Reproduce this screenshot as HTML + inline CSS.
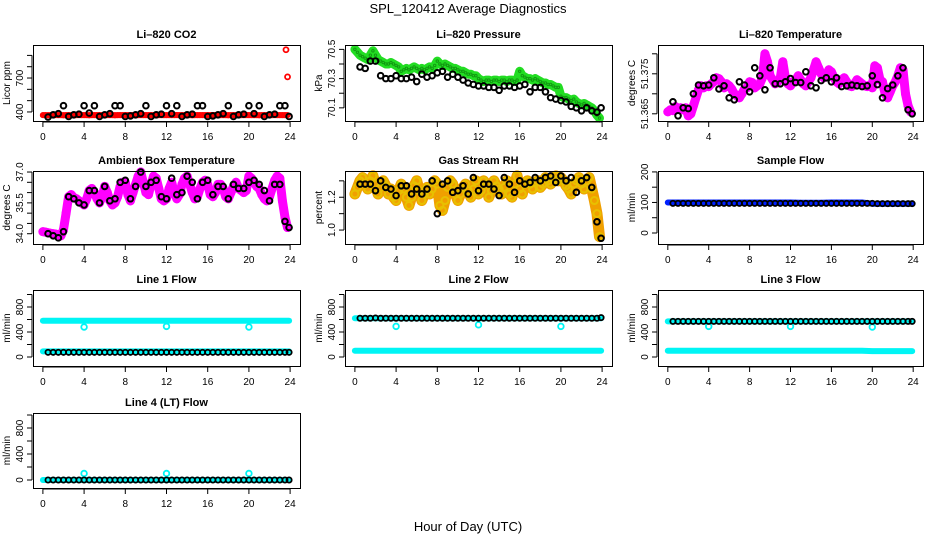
<!DOCTYPE html>
<html><head><meta charset="utf-8">
<style>
html,body{margin:0;padding:0;background:#fff;}
svg{display:block;font-family:"Liberation Sans",sans-serif;}
</style></head>
<body>
<svg id="chart" width="936" height="540" viewBox="0 0 936 540">
<text x="468" y="13" text-anchor="middle" font-size="13">SPL_120412  Average Diagnostics</text>
<text x="468" y="531" text-anchor="middle" font-size="13">Hour of Day (UTC)</text>
</svg>
<script>
// ---- data ----
const xTicks = [0,4,8,12,16,20,24];
const blackT = [0.5,1,1.5,2,2.5,3,3.5,4,4.5,5,5.5,6,6.5,7,7.5,8,8.5,9,9.5,10,10.5,11,11.5,12,12.5,13,13.5,14,14.5,15,15.5,16,16.5,17,17.5,18,18.5,19,19.5,20,20.5,21,21.5,22,22.5,23,23.5,23.9];
const hourT = [0,1,2,3,4,5,6,7,8,9,10,11,12,13,14,15,16,17,18,19,20,21,22,23,23.9];

const co2Red = [372,372,371,372,372,373,372,372,371,372,372,372,372,372,373,372,372,372,371,372,372,372,372,372,372,373,372,372,371,372,372,372,372,372,372,372,372,372,373,372,372,372,372,372,371,372,372,372,372,372,372,372,373,372,372,372,372,372,371,372,372,372,372,372,372,372,373,372,372,372,372,372,371,372,372,372,372,372,372,373,372,372,372,372,371,372,372,372,372,372,373,372,372,372,372,372];
const co2OutT = [23.6,23.75];
const co2OutV = [950,710];
const co2Black = [355,375,385,455,360,375,380,455,390,455,360,375,385,455,455,360,365,375,385,455,360,375,380,455,385,455,360,375,380,455,455,360,365,375,385,455,360,375,380,455,385,455,360,375,380,455,455,360];

const presGreen = [70.50,70.48,70.46,70.45,70.44,70.43,70.46,70.49,70.46,70.43,70.42,70.41,70.40,70.40,70.41,70.40,
70.39,70.38,70.35,70.36,70.37,70.36,70.37,70.38,70.37,70.36,70.37,70.36,70.37,70.38,70.37,70.39,
70.42,70.40,70.39,70.40,70.39,70.38,70.37,70.37,70.36,70.35,70.35,70.34,70.33,70.33,70.32,70.32,
70.30,70.29,70.28,70.29,70.29,70.28,70.29,70.29,70.28,70.29,70.29,70.28,70.29,70.29,70.28,70.29,
70.35,70.32,70.31,70.30,70.30,70.29,70.30,70.29,70.28,70.27,70.27,70.26,70.26,70.25,70.24,70.24,
70.18,70.17,70.17,70.16,70.15,70.16,70.14,70.13,70.12,70.13,70.12,70.11,70.10,70.08,70.05,70.03];
const presBlack = [70.38,70.37,70.42,70.42,70.32,70.30,70.30,70.32,70.30,70.30,70.31,70.28,70.33,70.31,70.32,70.34,70.35,70.31,70.33,70.31,70.29,70.27,70.26,70.25,70.25,70.24,70.24,70.22,70.25,70.25,70.24,70.25,70.26,70.21,70.24,70.24,70.21,70.17,70.16,70.15,70.14,70.11,70.10,70.08,70.10,70.08,70.07,70.10];

const liTemp = [51.3655,51.3660,51.3658,51.3668,51.3662,51.3665,51.3660,51.3665,51.3645,51.3650,51.3670,51.3690,51.3710,51.3720,51.3715,51.3720,
51.3718,51.3725,51.3730,51.3740,51.3738,51.3730,51.3715,51.3725,51.3720,51.3712,51.3700,51.3695,51.3690,51.3700,51.3712,51.3715,
51.3730,51.3728,51.3715,51.3720,51.3725,51.3740,51.3800,51.3780,51.3745,51.3735,51.3725,51.3730,51.3740,51.3780,51.3740,51.3725,
51.3720,51.3730,51.3735,51.3745,51.3735,51.3725,51.3720,51.3730,51.3740,51.3760,51.3780,51.3765,51.3750,51.3740,51.3745,51.3760,
51.3755,51.3740,51.3730,51.3725,51.3735,51.3740,51.3730,51.3720,51.3718,51.3725,51.3735,51.3730,51.3725,51.3720,51.3718,51.3722,
51.3715,51.3770,51.3765,51.3735,51.3730,51.3700,51.3690,51.3705,51.3720,51.3730,51.3745,51.3765,51.3760,51.3700,51.3670,51.3655];
const liTempBlack = [51.3680,51.3645,51.3665,51.3663,51.3700,51.3722,51.3720,51.3722,51.3740,51.3712,51.3720,51.3690,51.3685,51.3730,51.3722,51.3705,51.3765,51.3745,51.3710,51.3765,51.3725,51.3725,51.3730,51.3738,51.3728,51.3728,51.3755,51.3720,51.3715,51.3733,51.3740,51.3730,51.3740,51.3718,51.3720,51.3722,51.3720,51.3718,51.3720,51.3745,51.3723,51.3690,51.3713,51.3722,51.3745,51.3765,51.3660,51.3650];

const ambTemp = [34.10,34.08,34.05,34.02,34.00,33.98,33.95,33.90,34.20,35.00,35.80,35.90,35.75,35.70,35.60,35.50,
35.40,35.70,36.10,36.20,36.00,35.70,35.50,35.80,36.30,36.00,35.60,35.40,35.50,35.80,36.30,36.50,
36.50,35.90,35.60,36.00,36.40,36.80,37.00,36.50,36.00,35.90,36.40,36.80,36.70,36.20,35.70,35.60,
35.70,36.20,36.50,36.00,35.70,35.90,36.40,36.70,36.80,36.40,36.00,35.70,35.80,36.20,36.50,36.60,
36.40,35.90,35.80,36.00,36.40,36.40,36.20,35.80,35.70,36.00,36.30,36.50,36.20,36.10,36.00,36.10,
36.80,36.70,36.50,36.30,36.20,35.90,35.70,35.60,35.80,36.20,36.60,36.80,36.70,35.60,34.80,34.30];
const ambBlack = [34.0,33.9,33.8,34.1,35.8,35.7,35.5,35.4,36.1,36.1,35.5,36.3,35.6,35.7,36.5,36.6,35.7,36.3,37.0,36.3,36.5,36.6,35.8,35.7,36.7,35.9,36.0,36.8,36.5,35.7,36.5,36.6,35.9,36.3,36.3,35.7,36.4,36.2,36.2,36.5,36.6,36.4,36.1,35.6,36.4,36.4,34.6,34.3];

const rhVals = [1.22,1.26,1.30,1.32,1.28,1.25,1.30,1.33,1.28,1.22,1.26,1.30,1.27,1.22,1.25,1.20,
1.18,1.24,1.28,1.25,1.20,1.15,1.20,1.27,1.30,1.24,1.18,1.22,1.26,1.22,1.25,1.30,
1.28,1.15,1.12,1.18,1.26,1.30,1.28,1.22,1.18,1.22,1.26,1.28,1.24,1.20,1.25,1.30,
1.22,1.24,1.30,1.28,1.20,1.24,1.30,1.27,1.25,1.22,1.26,1.30,1.22,1.20,1.28,1.33,
1.25,1.22,1.28,1.30,1.28,1.25,1.29,1.30,1.26,1.28,1.32,1.30,1.28,1.31,1.33,1.30,
1.32,1.30,1.27,1.25,1.22,1.28,1.30,1.32,1.28,1.25,1.30,1.32,1.25,1.18,1.10,0.96];
const rhBlack = [1.28,1.28,1.28,1.24,1.30,1.26,1.25,1.21,1.27,1.27,1.22,1.25,1.22,1.25,1.30,1.10,1.28,1.30,1.23,1.24,1.27,1.22,1.32,1.24,1.28,1.28,1.25,1.21,1.32,1.28,1.23,1.30,1.28,1.29,1.32,1.30,1.32,1.33,1.29,1.33,1.30,1.32,1.23,1.30,1.32,1.26,1.05,0.95];

const sampleBlue = [100,100,100,100,100,100,100,100,100,100,100,100,100,99,99,99,100,100,100,100,96,96,96,96,96];
const sampleBlack = [97,97,97,97,97,97,97,97,97,97,97,97,97,97,97,97,97,97,97,97,97,97,97,97,97,97,97,97,97,97,97,97,97,97,97,97,97,97,97,97,96,96,96,96,96,96,96,96];

const l1High = [580,580,580,580,580,580,580,580,580,580,580,580,580,580,580,580,580,580,580,580,580,580,580,580,580];
const l1Low = [90,90,90,90,90,90,90,90,90,90,90,90,90,90,90,90,90,90,90,90,90,90,90,90,90];
const l1Black = [75,75,75,75,75,75,75,75,75,75,75,75,75,75,75,75,75,75,75,75,75,75,75,75,75,75,75,75,75,75,75,75,75,75,75,75,75,75,75,75,75,75,75,75,75,75,75,75];
const outT = [4,12,20];
const l1Out = [480,490,480];

const l2High = [620,620,620,620,620,620,620,620,620,620,620,620,620,620,620,620,620,620,620,620,620,620,620,620,620];
const l2Low = [100,100,100,100,100,100,100,100,100,100,100,100,100,100,100,100,100,100,100,100,100,100,100,100,100];
const l2Black = [620,620,620,625,620,620,620,620,620,620,620,620,620,620,620,620,620,620,620,620,620,620,620,620,620,620,620,620,620,620,620,620,620,620,620,620,620,620,620,620,620,620,620,620,620,620,620,630];
const l2Out = [490,515,490];

const l3High = [570,570,570,570,570,570,570,570,570,570,570,570,570,570,570,570,570,570,570,570,570,570,570,570,570];
const l3Low = [100,100,100,100,100,100,100,100,100,100,100,100,100,100,100,100,100,100,100,100,95,95,95,95,95];
const l3Black = [570,570,570,570,570,570,570,570,570,570,570,570,570,570,570,570,570,570,570,570,570,570,570,570,570,570,570,570,570,570,570,570,570,570,570,570,570,570,570,570,570,570,570,570,570,570,570,570];
const l3Out = [490,490,480];

const l4Cyan = [0,0,0,0,0,0,0,0,0,0,0,0,0,0,0,0,0,0,0,0,0,0,0,0,0];
const l4Black = [0,0,0,0,0,0,0,0,0,0,0,0,0,0,0,0,0,0,0,0,0,0,0,0,0,0,0,0,0,0,0,0,0,0,0,0,0,0,0,0,0,0,0,0,0,0,0,0];
const l4Out = [100,100,100];

const dT = [];
for (let i = 0; i < 96; i++) dT.push(i * 0.25);

// ---- drawing ----
const NS = "http://www.w3.org/2000/svg";
const svg = document.getElementById("chart");
function mk(tag, attrs, parent) {
  const e = document.createElementNS(NS, tag);
  for (const k in attrs) e.setAttribute(k, attrs[k]);
  (parent || svg).appendChild(e);
  return e;
}
function makePanel(p) {
  const g = mk("g", {});
  
  
  const [x0, y0, x1, y1] = p.box;
  const xs = t => x0 + (t + 0.96) / 25.92 * (x1 - x0);
  const ys = v => y1 - (v - p.ylim[0]) / (p.ylim[1] - p.ylim[0]) * (y1 - y0);
  const title = mk("text", {x: (x0 + x1) / 2, y: y0 - 7, "text-anchor": "middle", "font-size": 11, "font-weight": "bold"}, g);
  title.textContent = p.title;
  
  
  const clip = mk("g", {}, g);
  
  
  p.draw(clip, xs, ys);
  const frame = mk("rect", {x: x0 + 0.5, y: y0 + 0.5, width: x1 - x0, height: y1 - y0, fill: "none", stroke: "#000", "stroke-width": 1}, g);
  
  
  const xa = mk("g", {}, g);
  
  
  mk("line", {x1: xs(0), x2: xs(24), y1: y1 + 1, y2: y1 + 1, stroke: "#000"}, xa);
  xTicks.forEach(t => {
    mk("line", {x1: xs(t), x2: xs(t), y1: y1 + 1, y2: y1 + 6, stroke: "#000"}, xa);
    const tx = mk("text", {x: xs(t), y: y1 + 19, "text-anchor": "middle", "font-size": 10}, xa);
    tx.textContent = t;
  });
  const ya = mk("g", {}, g);
  
  
  mk("line", {x1: x0 - 1, x2: x0 - 1, y1: ys(p.ticks[0]), y2: ys(p.ticks[p.ticks.length - 1]), stroke: "#000"}, ya);
  p.ticks.forEach(v => {
    mk("line", {x1: x0 - 6, x2: x0 - 1, y1: ys(v), y2: ys(v), stroke: "#000"}, ya);
  });
  p.labels.forEach(v => {
    const y = ys(v);
    const tx = mk("text", {x: 0, y: 0, "text-anchor": "middle", "font-size": 10, transform: `translate(${x0 - 10},${y}) rotate(-90)`}, ya);
    tx.textContent = p.fmt ? p.fmt(v) : v;
  });
  const yl = mk("text", {x: 0, y: 0, "text-anchor": "middle", "font-size": 10, transform: `translate(${x0 - 23},${(y0 + y1) / 2}) rotate(-90)`}, g);
  yl.textContent = p.ylab;
  
  
}
function pts(g, T, V, xs, ys, color, r, sw, name) {
  const n = Math.min(T.length, V.length);
  for (let i = 0; i < n; i++) {
    const c = mk("circle", {cx: xs(T[i]), cy: ys(V[i]), r: r, fill: "none", stroke: color, "stroke-width": sw}, g);
    
    
  }
}
function band(g, T, V, xs, ys, color, w, name) {
  const n = Math.min(T.length, V.length);
  let d = "";
  for (let i = 0; i < n; i++) d += (i ? "L" : "M") + xs(T[i]).toFixed(1) + "," + ys(V[i]).toFixed(1);
  const p = mk("path", {d: d, fill: "none", stroke: color, "stroke-width": w, "stroke-linejoin": "round", "stroke-linecap": "round"}, g);
  
  
}
const CY = "#00f5f5";
const flowTicks = [0,200,400,600,800,1000];
const flowLabels = [0,400,800];
const BW = 2;
const panels = [
  {name: "co2", title: "Li\u2013820 CO2", ylab: "Licor ppm", box: [33,45,300,121], ylim: [320,992],
   ticks: [400,500,600,700,800,900], labels: [400,700],
   draw: (g, xs, ys) => {
     band(g, dT, co2Red, xs, ys, "#f00", 6, "co2-licor-band");
     pts(g, dT, co2Red, xs, ys, "#f00", 2.3, 1.5, "co2-licor-point");
     pts(g, co2OutT, co2OutV, xs, ys, "#f00", 2.5, 1.8, "co2-outlier-point");
     pts(g, blackT, co2Black, xs, ys, "#000", 2.8, BW, "co2-average-point");
   }},
  {name: "pressure", title: "Li\u2013820 Pressure", ylab: "kPa", box: [345,45,612,121], ylim: [70.01,70.53],
   ticks: [70.1,70.2,70.3,70.4,70.5], labels: [70.1,70.3,70.5], fmt: v => v.toFixed(1),
   draw: (g, xs, ys) => {
     band(g, dT, presGreen, xs, ys, "#22dd22", 9, "pressure-band");
     pts(g, dT, presGreen, xs, ys, "#119911", 1.2, 1, "pressure-point");
     pts(g, blackT, presBlack, xs, ys, "#000", 2.8, BW, "pressure-average-point");
   }},
  {name: "li-temp", title: "Li\u2013820 Temperature", ylab: "degrees C", box: [658,45,923,121], ylim: [51.3632,51.3822],
   ticks: [51.365,51.37,51.375,51.38], labels: [51.365,51.375], fmt: v => v.toFixed(3),
   draw: (g, xs, ys) => {
     band(g, dT, liTemp, xs, ys, "#ff00ff", 9, "li-temp-band");
     pts(g, dT, liTemp, xs, ys, "#ff00ff", 3.5, 2, "li-temp-point");
     pts(g, blackT, liTempBlack, xs, ys, "#000", 2.8, BW, "li-temp-average-point");
   }},
  {name: "ambient", title: "Ambient Box Temperature", ylab: "degrees C", box: [33,171,300,244], ylim: [33.5,37.05],
   ticks: [34,34.5,35,35.5,36,36.5,37], labels: [34,35.5,37], fmt: v => v.toFixed(1),
   draw: (g, xs, ys) => {
     band(g, dT, ambTemp, xs, ys, "#ff00ff", 9, "ambient-band");
     pts(g, dT, ambTemp, xs, ys, "#ff00ff", 3.5, 2, "ambient-point");
     pts(g, blackT, ambBlack, xs, ys, "#000", 2.8, BW, "ambient-average-point");
   }},
  {name: "rh", title: "Gas Stream RH", ylab: "percent", box: [345,171,612,244], ylim: [0.915,1.36],
   ticks: [1.0,1.1,1.2,1.3], labels: [1.0,1.2], fmt: v => v.toFixed(1),
   draw: (g, xs, ys) => {
     band(g, dT, rhVals, xs, ys, "#f0a000", 11, "rh-band");
     pts(g, dT, rhVals, xs, ys, "#e8c000", 3.5, 2, "rh-point");
     pts(g, blackT, rhBlack, xs, ys, "#000", 2.8, BW, "rh-average-point");
   }},
  {name: "sample-flow", title: "Sample Flow", ylab: "ml/min", box: [658,171,923,244], ylim: [-36,203],
   ticks: [0,50,100,150,200], labels: [0,100,200],
   draw: (g, xs, ys) => {
     band(g, hourT, sampleBlue, xs, ys, "#0020ff", 6, "sample-flow-band");
     pts(g, blackT, sampleBlack, xs, ys, "#000", 2.6, 1.8, "sample-flow-average-point");
   }},
  {name: "line1", title: "Line 1 Flow", ylab: "ml/min", box: [33,290,300,366], ylim: [-144,1072],
   ticks: flowTicks, labels: flowLabels,
   draw: (g, xs, ys) => {
     band(g, hourT, l1High, xs, ys, CY, 6, "line1-high-band");
     band(g, hourT, l1Low, xs, ys, CY, 6, "line1-low-band");
     pts(g, outT, l1Out, xs, ys, CY, 2.8, 1.8, "line1-outlier-point");
     pts(g, blackT, l1Black, xs, ys, "#000", 2.6, 1.8, "line1-average-point");
   }},
  {name: "line2", title: "Line 2 Flow", ylab: "ml/min", box: [345,290,612,366], ylim: [-144,1072],
   ticks: flowTicks, labels: flowLabels,
   draw: (g, xs, ys) => {
     band(g, hourT, l2High, xs, ys, CY, 6, "line2-high-band");
     band(g, hourT, l2Low, xs, ys, CY, 6, "line2-low-band");
     pts(g, outT, l2Out, xs, ys, CY, 2.8, 1.8, "line2-outlier-point");
     pts(g, blackT, l2Black, xs, ys, "#000", 2.6, 1.8, "line2-average-point");
   }},
  {name: "line3", title: "Line 3 Flow", ylab: "ml/min", box: [658,290,923,366], ylim: [-144,1072],
   ticks: flowTicks, labels: flowLabels,
   draw: (g, xs, ys) => {
     band(g, hourT, l3High, xs, ys, CY, 6, "line3-high-band");
     band(g, hourT, l3Low, xs, ys, CY, 6, "line3-low-band");
     pts(g, outT, l3Out, xs, ys, CY, 2.8, 1.8, "line3-outlier-point");
     pts(g, blackT, l3Black, xs, ys, "#000", 2.6, 1.8, "line3-average-point");
   }},
  {name: "line4", title: "Line 4 (LT) Flow", ylab: "ml/min", box: [33,413,300,488], ylim: [-123,1031],
   ticks: flowTicks, labels: flowLabels,
   draw: (g, xs, ys) => {
     band(g, hourT, l4Cyan, xs, ys, CY, 6, "line4-band");
     pts(g, outT, l4Out, xs, ys, CY, 2.8, 1.8, "line4-outlier-point");
     pts(g, blackT, l4Black, xs, ys, "#000", 2.6, 1.8, "line4-average-point");
   }}
];
panels.forEach(makePanel);
</script>
</body></html>
